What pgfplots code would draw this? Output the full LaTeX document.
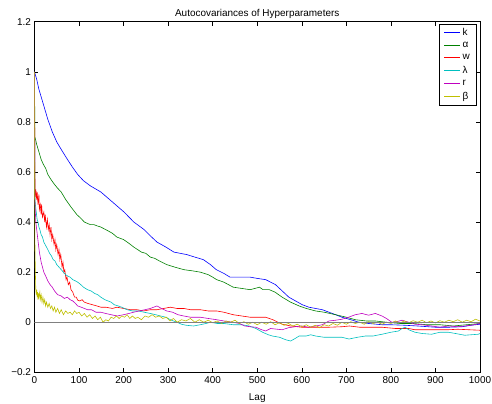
\documentclass[border=0pt]{standalone}
\usepackage{fontspec}
\setmainfont{Liberation Sans}
\usepackage{pgfplots}
\pgfplotsset{compat=1.18}
\definecolor{mblue}{rgb}{0,0,1}
\definecolor{mgreen}{rgb}{0,0.5,0}
\definecolor{mred}{rgb}{1,0,0}
\definecolor{mcyan}{rgb}{0,0.75,0.75}
\definecolor{mmag}{rgb}{0.75,0,0.75}
\definecolor{molive}{rgb}{0.75,0.75,0}
\newcommand{\chartfont}{\fontsize{10}{12}\selectfont}
\begin{document}
\begin{tikzpicture}
\begin{axis}[
    scale only axis,
    width=446bp, height=351bp,
    xmin=0, xmax=1000, ymin=-0.2, ymax=1.2,
    xtick={0,100,200,300,400,500,600,700,800,900,1000},
    xticklabels={0,100,200,300,400,500,600,700,800,900,1000},
    ytick={-0.2,0,0.2,0.4,0.6,0.8,1,1.2},
    yticklabels={−0.2,0,0.2,0.4,0.6,0.8,1,1.2},
    tick align=inside,
    major tick length=4bp,
    tick style={black, line width=0.5pt},
    axis line style={black, line width=0.8pt},
    tick label style={font=\chartfont},
    xticklabel style={yshift=-1bp},
    title={Autocovariances of Hyperparameters},
    title style={font=\chartfont, yshift=-6bp},
    xlabel={Lag},
    xlabel style={font=\chartfont, yshift=-3bp},
    legend style={at={(0.991,0.994)}, anchor=north east, draw=black,
        font=\chartfont, inner xsep=4bp, inner ysep=2bp, row sep=1.3bp},
    legend cell align=left,
    legend image code/.code={\draw[#1, line width=1.2pt] (0bp,0bp) -- (16bp,0bp);},
    every axis plot/.append style={line width=0.6pt},
]
\addplot[mblue] coordinates {(0,1)(5,0.97)(10,0.93)(20,0.87)(30,0.81)(40,0.76)(50,0.72)(60,0.69)(74,0.65)(85,0.62)(97,0.59)(110,0.565)(125,0.545)(149,0.52)(175,0.48)(201,0.44)(223,0.40)(246,0.37)(260,0.345)(275,0.32)(295,0.30)(313,0.28)(342,0.27)(360,0.26)(379,0.25)(395,0.23)(408,0.21)(425,0.195)(439,0.18)(460,0.18)(484,0.18)(500,0.175)(519,0.17)(541,0.15)(556,0.125)(571,0.10)(586,0.085)(601,0.07)(616,0.06)(631,0.055)(646,0.05)(661,0.04)(676,0.03)(690,0.02)(710,0.01)(728,0.0)(750,-0.005)(780,-0.01)(800,-0.01)(830,-0.012)(860,-0.015)(900,-0.02)(930,-0.02)(960,-0.018)(980,-0.012)(1000,-0.008)};
\addplot[mgreen] coordinates {(0,1)(1,0.74)(5,0.71)(10,0.68)(15,0.65)(20,0.63)(25,0.615)(30,0.59)(37,0.57)(45,0.55)(52,0.535)(60,0.52)(70,0.49)(82,0.46)(95,0.43)(104,0.415)(112,0.40)(125,0.39)(133,0.39)(140,0.385)(149,0.38)(165,0.365)(175,0.355)(185,0.34)(200,0.33)(212,0.315)(223,0.30)(240,0.28)(250,0.275)(260,0.26)(270,0.255)(280,0.245)(297,0.23)(315,0.22)(325,0.215)(335,0.21)(355,0.205)(372,0.20)(390,0.19)(400,0.18)(409,0.17)(425,0.16)(446,0.14)(465,0.135)(484,0.13)(495,0.135)(505,0.14)(513,0.13)(527,0.13)(540,0.12)(556,0.10)(575,0.08)(594,0.065)(610,0.055)(631,0.045)(650,0.04)(676,0.03)(700,0.02)(720,0.01)(745,0.005)(765,0.005)(790,0.0)(820,-0.005)(850,-0.005)(880,-0.01)(910,-0.01)(940,-0.015)(970,-0.01)(1000,-0.005)};
\addplot[mred] coordinates {(0,1)(1,0.58)(2,0.50)(3,0.53)(5,0.49)(6,0.52)(8,0.47)(10,0.51)(11,0.45)(13,0.47)(15,0.43)(16,0.47)(18,0.42)(21,0.44)(23,0.40)(24,0.43)(27,0.38)(29,0.41)(31,0.37)(33,0.39)(35,0.35)(37,0.38)(39,0.33)(41,0.35)(44,0.31)(46,0.33)(48,0.29)(50,0.31)(53,0.27)(55,0.29)(57,0.25)(59,0.27)(62,0.22)(64,0.24)(66,0.20)(68,0.21)(71,0.17)(73,0.18)(76,0.15)(79,0.16)(82,0.13)(86,0.12)(90,0.10)(94,0.10)(97,0.088)(102,0.085)(107,0.09)(112,0.08)(120,0.075)(130,0.07)(140,0.065)(149,0.06)(160,0.06)(175,0.055)(185,0.06)(200,0.055)(215,0.05)(230,0.05)(245,0.045)(260,0.05)(275,0.05)(290,0.055)(305,0.06)(320,0.055)(335,0.055)(350,0.05)(372,0.05)(390,0.045)(409,0.045)(425,0.04)(446,0.03)(465,0.025)(484,0.02)(500,0.02)(519,0.02)(535,0.01)(556,-0.008)(575,-0.015)(600,-0.02)(630,-0.02)(660,-0.02)(690,-0.018)(707,-0.015)(730,-0.02)(760,-0.02)(780,-0.02)(810,-0.025)(840,-0.025)(854,-0.03)(880,-0.03)(910,-0.03)(929,-0.03)(950,-0.028)(975,-0.03)(1000,-0.032)};
\addplot[mcyan] coordinates {(0,1)(1,0.50)(2,0.47)(4,0.44)(6,0.41)(8,0.40)(10,0.38)(12,0.37)(15,0.35)(18,0.34)(21,0.32)(24,0.31)(27,0.30)(30,0.29)(34,0.275)(38,0.265)(42,0.25)(46,0.245)(50,0.23)(55,0.22)(60,0.21)(65,0.20)(70,0.19)(74,0.185)(80,0.18)(86,0.17)(92,0.165)(97,0.16)(104,0.15)(110,0.14)(119,0.13)(127,0.125)(135,0.115)(142,0.11)(149,0.10)(158,0.09)(165,0.085)(172,0.08)(179,0.07)(188,0.065)(196,0.06)(208,0.05)(220,0.045)(233,0.045)(246,0.04)(260,0.035)(272,0.03)(283,0.025)(295,0.02)(305,0.01)(312,0.005)(320,0.0)(330,-0.008)(340,-0.012)(357,-0.015)(372,-0.01)(385,-0.005)(395,0.0)(410,-0.005)(425,-0.005)(446,-0.01)(465,-0.01)(482,-0.015)(497,-0.025)(512,-0.04)(525,-0.05)(534,-0.055)(550,-0.06)(564,-0.07)(575,-0.075)(585,-0.065)(594,-0.055)(610,-0.055)(620,-0.05)(631,-0.055)(650,-0.06)(668,-0.06)(690,-0.06)(706,-0.067)(725,-0.06)(743,-0.055)(760,-0.055)(780,-0.048)(800,-0.04)(817,-0.035)(825,-0.025)(832,-0.02)(840,-0.03)(854,-0.04)(870,-0.045)(891,-0.048)(910,-0.04)(929,-0.04)(945,-0.045)(966,-0.052)(980,-0.05)(996,-0.048)(1000,-0.045)};
\addplot[mmag] coordinates {(0,1)(1,0.48)(2,0.44)(3,0.40)(5,0.37)(7,0.34)(9,0.31)(11,0.28)(13,0.26)(15,0.24)(18,0.22)(21,0.20)(25,0.185)(30,0.165)(35,0.15)(40,0.14)(45,0.125)(52,0.11)(60,0.105)(67,0.095)(74,0.10)(80,0.09)(86,0.085)(92,0.075)(97,0.065)(105,0.06)(112,0.055)(119,0.05)(128,0.05)(138,0.04)(149,0.04)(160,0.035)(172,0.03)(186,0.025)(200,0.03)(212,0.035)(223,0.04)(235,0.045)(248,0.05)(260,0.055)(275,0.065)(285,0.055)(297,0.045)(310,0.04)(322,0.03)(335,0.025)(350,0.02)(372,0.02)(390,0.015)(409,0.01)(425,0.005)(446,0.0)(460,-0.005)(472,-0.015)(484,-0.018)(497,-0.02)(510,-0.03)(519,-0.035)(530,-0.025)(545,-0.028)(556,-0.03)(570,-0.022)(585,-0.018)(600,-0.015)(615,-0.02)(631,-0.015)(646,-0.01)(661,0.005)(676,0.008)(690,0.012)(705,0.02)(720,0.03)(735,0.035)(750,0.028)(765,0.035)(780,0.025)(790,0.015)(802,0.0)(815,0.003)(825,0.008)(840,0.0)(854,-0.008)(870,-0.01)(891,-0.015)(910,-0.02)(929,-0.015)(950,-0.018)(966,-0.015)(980,-0.012)(1000,-0.005)};
\addplot[molive] coordinates {(0,1)(1,0.32)(2,0.20)(3,0.13)(4,0.11)(5,0.13)(6,0.10)(7,0.12)(8,0.09)(9,0.115)(10,0.10)(12,0.12)(13,0.09)(15,0.11)(17,0.08)(19,0.10)(21,0.075)(23,0.09)(25,0.065)(27,0.08)(30,0.06)(33,0.075)(36,0.055)(39,0.065)(42,0.045)(45,0.06)(48,0.04)(52,0.055)(56,0.035)(60,0.05)(65,0.03)(70,0.045)(75,0.035)(80,0.04)(85,0.03)(90,0.045)(95,0.035)(100,0.04)(106,0.025)(112,0.035)(118,0.02)(124,0.03)(130,0.015)(136,0.025)(142,0.01)(148,0.02)(154,0.0)(160,0.01)(166,0.005)(172,0.02)(178,0.015)(184,0.025)(190,0.015)(196,0.025)(202,0.02)(208,0.03)(214,0.015)(220,0.025)(226,0.015)(232,0.02)(240,0.01)(248,0.025)(256,0.02)(264,0.03)(272,0.02)(280,0.025)(288,0.015)(296,0.02)(304,0.005)(312,0.015)(320,0.0)(330,0.01)(340,0.005)(350,0.015)(360,0.0)(370,0.01)(380,0.0)(390,0.008)(400,-0.002)(410,0.005)(420,-0.005)(430,0.005)(440,0.0)(450,0.008)(460,-0.005)(470,0.002)(480,-0.008)(490,0.0)(500,-0.01)(510,0.0)(520,-0.008)(530,0.002)(540,-0.01)(550,-0.002)(560,-0.012)(570,-0.005)(580,-0.015)(590,-0.008)(600,-0.018)(610,-0.01)(620,-0.02)(630,-0.012)(640,-0.022)(650,-0.01)(660,-0.015)(670,-0.005)(680,-0.012)(690,0.0)(700,-0.008)(710,0.002)(720,-0.005)(730,0.0)(740,-0.008)(750,0.002)(760,-0.005)(770,0.0)(780,-0.008)(790,0.0)(800,-0.005)(810,0.005)(820,-0.003)(830,0.005)(840,-0.002)(850,0.006)(860,0.0)(870,0.008)(880,-0.002)(890,0.005)(900,-0.003)(910,0.006)(920,0.0)(930,0.008)(940,0.002)(950,0.01)(960,0.0)(970,0.008)(980,0.002)(990,0.012)(1000,0.005)};
\addplot[gray, line width=1.1pt, forget plot] coordinates {(0,0)(1000,0)};
\legend{k,α,w,λ,r,β}
\end{axis}
\pgfresetboundingbox
\path[use as bounding box] ([xshift=-34.5bp,yshift=-31bp]current axis.south west) rectangle ([xshift=12bp,yshift=21.7bp]current axis.north east);
\end{tikzpicture}
\end{document}
